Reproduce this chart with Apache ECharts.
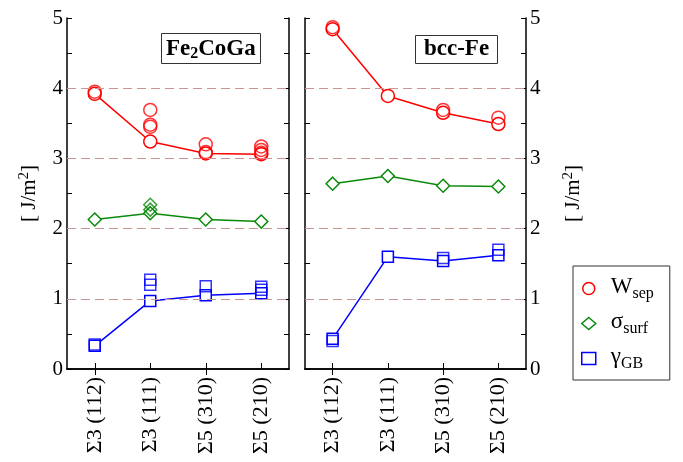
<!DOCTYPE html>
<html>
<head>
<meta charset="utf-8">
<script src="https://cdn.jsdelivr.net/npm/echarts@6/dist/echarts.min.js"></script>
<style>html,body{margin:0;padding:0;background:#fff}#c{width:683px;height:462px}</style>
</head>
<body>
<div id="c"></div>
<script>
const categories = ['Σ3 (112)', 'Σ3 (111)', 'Σ5 (310)', 'Σ5 (210)'];
const yTicks = [0, 1, 2, 3, 4, 5];
const gridLevels = [1, 2, 3, 4];

// Fe2CoGa panel
const feW = [3.92, 3.24, 3.07, 3.06];
const feWExtra = [[0, 3.95], [1, 3.69], [1, 3.48], [1, 3.45], [2, 3.20], [2, 3.09], [3, 3.17], [3, 3.12], [3, 3.08]];
const feS = [2.13, 2.22, 2.13, 2.10];
const feSExtra = [[1, 2.34], [1, 2.27]];
const feG = [0.33, 0.97, 1.05, 1.08];
const feGExtra = [[0, 0.35], [1, 1.27], [1, 1.20], [2, 1.18], [3, 1.17], [3, 1.13]];

// bcc-Fe panel
const feBW = [4.84, 3.89, 3.65, 3.49];
const feBWExtra = [[0, 4.87], [2, 3.69], [3, 3.58]];
const feBS = [2.64, 2.75, 2.61, 2.60];
const feBSExtra = [];
const feBG = [0.43, 1.60, 1.54, 1.62];
const feBGExtra = [[0, 0.40], [2, 1.58], [3, 1.70]];

const FONT = "'Liberation Serif', 'Times New Roman', 'DejaVu Serif', serif";
const RED = '#ff0000', GREEN = '#0a8a0a', BLUE = '#0000ff';

function xAx(grid, pos, labels) {
  return {
    type: 'category', gridIndex: grid, position: pos, data: categories,
    boundaryGap: true,
    axisLine: { show: true, lineStyle: { color: '#000', width: 1.5 } },
    axisTick: { show: true, inside: true, alignWithLabel: true, length: 6, lineStyle: { color: '#000', width: 1 } },
    axisLabel: labels ? { show: true, rotate: 90, color: '#000', fontFamily: FONT, fontSize: 22, margin: 8 } : { show: false },
    splitLine: { show: false }
  };
}
function yAx(grid, pos, labels, name, gap) {
  return {
    type: 'value', gridIndex: grid, position: pos, min: 0, max: 5, interval: 0.5,
    axisLine: { show: true, lineStyle: { color: '#000', width: 1.5 } },
    axisTick: { show: true, inside: true, length: 5, lineStyle: { color: '#000', width: 1 } },
    axisLabel: labels ? {
      show: true, color: '#000', fontFamily: FONT, fontSize: 21, margin: 4,
      formatter: v => (yTicks.indexOf(v) >= 0 ? String(v) : '')
    } : { show: false },
    splitLine: { show: false },
    name: name || '', nameLocation: 'middle', nameRotate: 90, nameGap: gap || 0,
    nameTextStyle: {
      color: '#000', fontFamily: FONT, fontSize: 21,
      rich: {
        n: { fontFamily: FONT, fontSize: 21, color: '#000' },
        sup: { fontFamily: FONT, fontSize: 15, color: '#000', verticalAlign: 'top', padding: [0, 0, 10, 0] }
      }
    }
  };
}

const yName = '{n|[ J/m}{sup|2}{n|]}';

function gridMark() {
  return {
    silent: true, symbol: ['none', 'none'], label: { show: false },
    lineStyle: { type: [9, 5], color: '#c89494', width: 1.2 },
    data: gridLevels.map(v => ({ yAxis: v }))
  };
}

function lineSeries(name, data, xi, yi, color, symbol, size, mark) {
  const s = {
    name, type: 'line', xAxisIndex: xi, yAxisIndex: yi, data,
    symbol, symbolSize: size, showAllSymbol: true,
    lineStyle: { color, width: 1.5 },
    itemStyle: { color: '#fff', borderColor: color, borderWidth: 1.5 },
    z: 3, animation: false
  };
  if (mark) s.markLine = gridMark();
  return s;
}
function scatterSeries(name, data, xi, yi, color, symbol, size) {
  return {
    name, type: 'scatter', xAxisIndex: xi, yAxisIndex: yi, data,
    symbol, symbolSize: size,
    itemStyle: { color: 'rgba(0,0,0,0)', borderColor: color, borderWidth: 1.5 },
    z: 4, animation: false
  };
}

const NW = 'Wsep', NS = 'ssurf', NG = 'gGB';
const legendLabels = { Wsep: '{b|W}{s|sep}', ssurf: '{b|σ}{s|surf}', gGB: '{b|γ}{s|GB}' };

const series = [
  lineSeries(NW, feW, 0, 0, RED, 'circle', 13, true),
  scatterSeries(NW, feWExtra, 0, 0, RED, 'circle', 13),
  lineSeries(NS, feS, 0, 0, GREEN, 'diamond', 13),
  scatterSeries(NS, feSExtra, 0, 0, GREEN, 'diamond', 13),
  lineSeries(NG, feG, 0, 0, BLUE, 'rect', 11),
  scatterSeries(NG, feGExtra, 0, 0, BLUE, 'rect', 11),
  lineSeries(NW, feBW, 2, 2, RED, 'circle', 13, true),
  scatterSeries(NW, feBWExtra, 2, 2, RED, 'circle', 13),
  lineSeries(NS, feBS, 2, 2, GREEN, 'diamond', 13),
  scatterSeries(NS, feBSExtra, 2, 2, GREEN, 'diamond', 13),
  lineSeries(NG, feBG, 2, 2, BLUE, 'rect', 11),
  scatterSeries(NG, feBGExtra, 2, 2, BLUE, 'rect', 11)
];

const titleRich = {
  a: { fontFamily: FONT, fontSize: 23, fontWeight: 'bold', color: '#000' },
  s: { fontFamily: FONT, fontSize: 16, fontWeight: 'bold', color: '#000', verticalAlign: 'bottom', padding: [10, 0, 0, 0] }
};

const chart = echarts.init(document.getElementById('c'), null, { renderer: 'canvas' });
chart.setOption({
  animation: false,
  backgroundColor: '#fff',
  grid: [
    { left: 67, top: 18, width: 222, height: 351, containLabel: false },
    { left: 305, top: 18, width: 221, height: 351, containLabel: false }
  ],
  xAxis: [xAx(0, 'bottom', true), xAx(0, 'top', false), xAx(1, 'bottom', true), xAx(1, 'top', false)],
  yAxis: [yAx(0, 'left', true, yName, 25), yAx(0, 'right', false), yAx(1, 'left', false), yAx(1, 'right', true, yName, 35)],
  title: [
    {
      text: '{a|Fe}{s|2}{a|CoGa}', left: 161, top: 32, padding: [4, 5, 2, 5],
      borderColor: '#333', borderWidth: 1, backgroundColor: '#fff',
      textStyle: { rich: titleRich }
    },
    {
      text: '{a|bcc-Fe}', left: 415, top: 35, padding: [3, 9, 3, 9],
      borderColor: '#333', borderWidth: 1, backgroundColor: '#fff',
      textStyle: { rich: titleRich }
    }
  ],
  legend: {
    orient: 'vertical', left: 573, top: 266, width: 85,
    padding: [9, 16, 8, 8], itemGap: 8, itemWidth: 14, itemHeight: 12,
    borderColor: '#333', borderWidth: 1, backgroundColor: '#fff',
    selectedMode: false,
    data: [
      { name: NW, icon: 'circle', itemStyle: { color: 'rgba(0,0,0,0)', borderColor: RED, borderWidth: 1.5 } },
      { name: NS, icon: 'diamond', itemStyle: { color: 'rgba(0,0,0,0)', borderColor: GREEN, borderWidth: 1.5 } },
      { name: NG, icon: 'rect', itemStyle: { color: 'rgba(0,0,0,0)', borderColor: BLUE, borderWidth: 1.5 } }
    ],
    formatter: n => legendLabels[n],
    textStyle: {
      rich: {
        b: { fontFamily: FONT, fontSize: 23, color: '#000', padding: [0, 0, 4, 10] },
        s: { fontFamily: FONT, fontSize: 16, color: '#000', verticalAlign: 'bottom', padding: [10, 0, 0, 0] }
      }
    }
  },
  series
});
</script>
</body>
</html>
